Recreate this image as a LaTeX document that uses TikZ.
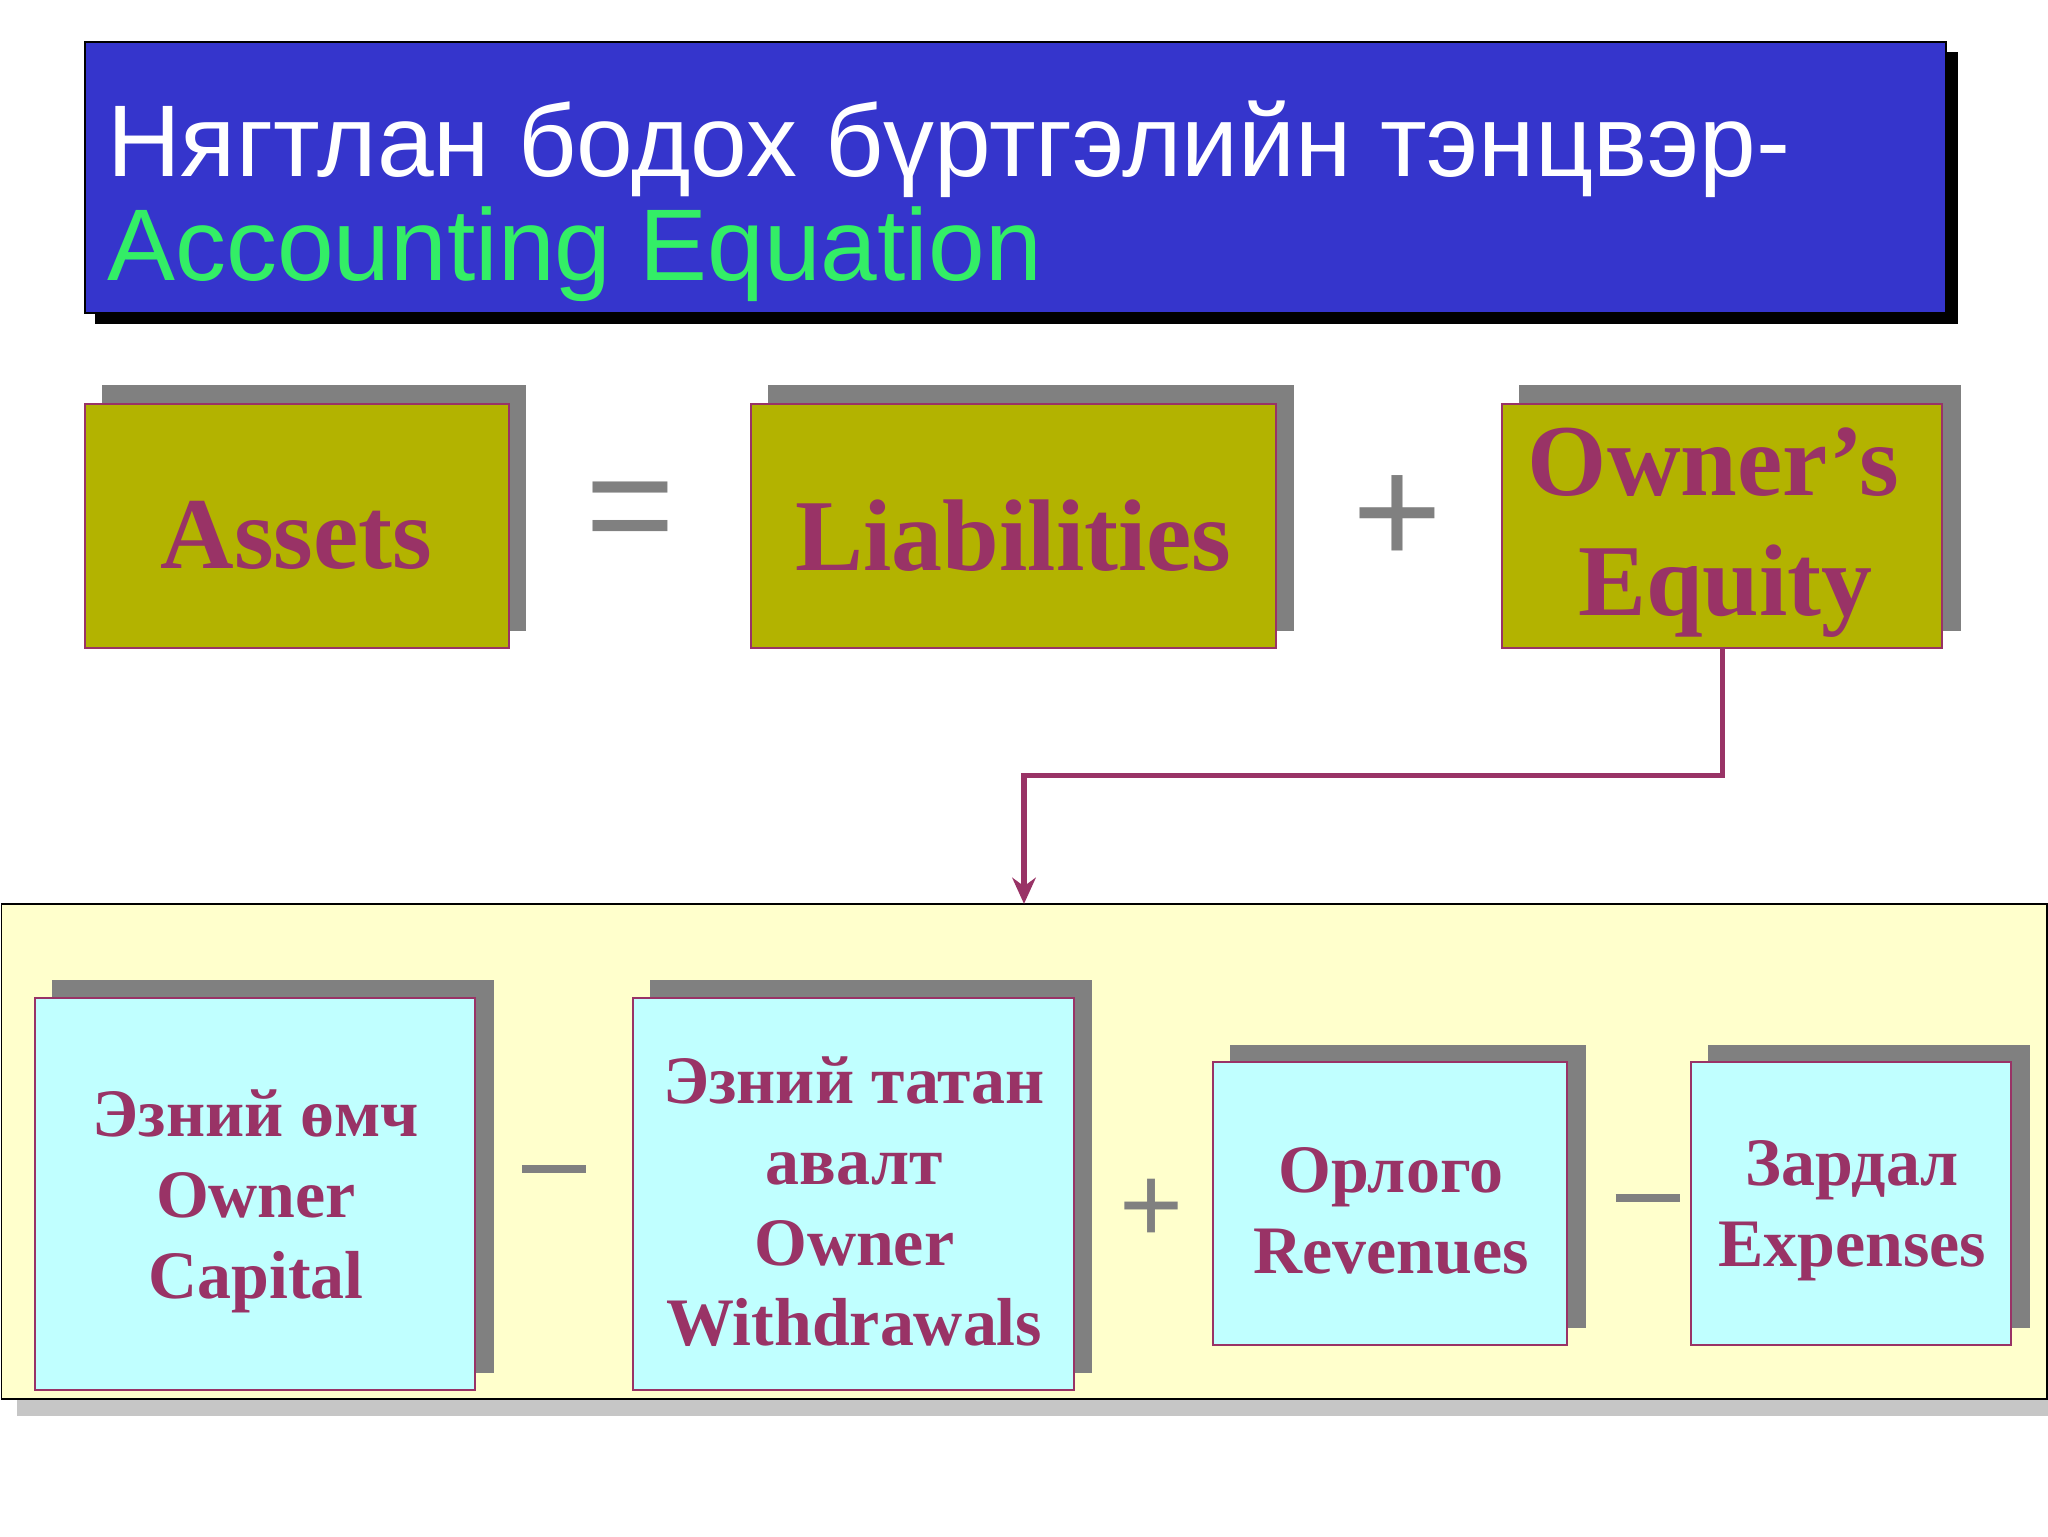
\documentclass[tikz,border=0pt]{standalone}
\usepackage{fontspec}
\setmainfont{Liberation Serif}
\newfontfamily\arialf{Liberation Sans}
\usetikzlibrary{arrows.meta}
\definecolor{ttlblue}{HTML}{3535CC}
\definecolor{ttlgreen}{HTML}{33EE66}
\definecolor{olive}{HTML}{B3B300}
\definecolor{plum}{HTML}{993366}
\definecolor{cyanbox}{HTML}{C0FFFF}
\definecolor{panel}{HTML}{FFFFCC}
\definecolor{shad}{HTML}{808080}
\tikzset{
 x=1pt,y=-1pt,
 topbox/.style={draw=plum,line width=1.5pt,fill=olive},
 botbox/.style={draw=plum,line width=1.5pt,fill=cyanbox},
 bottxt/.style={text=plum,align=center,font=\fontsize{52}{62}\selectfont\bfseries},
 op/.style={text=shad,font=\arialf\fontsize{118}{118}\selectfont},
 bop/.style={text=shad,font=\arialf\fontsize{84}{84}\selectfont},
}
\begin{document}
\begin{tikzpicture}
\useasboundingbox (0,0) rectangle (1568,1176);
\fill[white] (0,0) rectangle (1568,1176);
% title
\fill[black] (73,40) rectangle (1499,248);
\draw[fill=ttlblue,line width=1.5pt] (65,32) rectangle (1490,240);
\node[anchor=base west,text=white,font=\arialf\fontsize{78}{80}\selectfont,inner sep=0] (t1) at (82,135) {Нягтлан бодох бүртгэлийн тэнцвэр-};
\node[anchor=base west,text=ttlgreen,font=\arialf\fontsize{78}{80}\selectfont,inner sep=0] (t2) at (82,215) {Accounting Equation};
% top boxes
\fill[shad] (78,295) rectangle (403,483);
\draw[topbox] (65,309) rectangle (390,496);
\node[text=plum,font=\fontsize{78}{70}\selectfont\bfseries] (assets) at (227,410) {Assets};
\fill[shad] (588,295) rectangle (991,483);
\draw[topbox] (575,309) rectangle (977,496);
\node[text=plum,font=\fontsize{78}{70}\selectfont\bfseries] (liab) at (776,410) {Liabilities};
\fill[shad] (1163,295) rectangle (1501,483);
\draw[topbox] (1150,309) rectangle (1487,496);
\node[text=plum,font=\fontsize{78}{92}\selectfont\bfseries,align=center] (oe) at (1312,408) {Owner’s\\\hspace*{18pt}Equity};
\coordinate (oeb) at (1319,496);
\node[op] (eq) at (483,398) {=};
\node[op] (pl) at (1070,398) {+};
% panel
\fill[gray!45] (13,704) rectangle (1580,1084);
\draw[fill=panel,line width=1.2pt] (1,692) rectangle (1567,1071);
\coordinate (tgt) at (784,692);
\draw[plum,line width=4pt,-{Stealth[length=20pt,width=18pt]}] (oeb) -- (1319,594) -- (784,594) -- (tgt);
% bottom boxes
\fill[shad] (40,750) rectangle (378,1051);
\draw[botbox] (27,764) rectangle (364,1064);
\node[bottxt] (b1) at (196,920) {Эзний өмч\\Owner\\Capital};
\fill[shad] (498,750) rectangle (836,1051);
\draw[botbox] (485,764) rectangle (822,1064);
\node[bottxt] (b2) at (654,920) {Эзний татан\\авалт\\Owner\\Withdrawals};
\fill[shad] (942,800) rectangle (1214,1017);
\draw[botbox] (929,813) rectangle (1200,1030);
\node[bottxt] (b3) at (1065,927) {Орлого\\Revenues};
\fill[shad] (1308,800) rectangle (1554,1017);
\draw[botbox] (1295,813) rectangle (1540,1030);
\node[bottxt] (b4) at (1418,927) {Зардал\\Expenses};
\draw[shad,line width=6pt] (400,895) -- (449,895);
\coordinate (m1) at (424,895);
\node[bop] (p2) at (882,927) {+};
\draw[shad,line width=6pt] (1237,917) -- (1286,917);
\coordinate (m3) at (1261,917);
\end{tikzpicture}
\end{document}
